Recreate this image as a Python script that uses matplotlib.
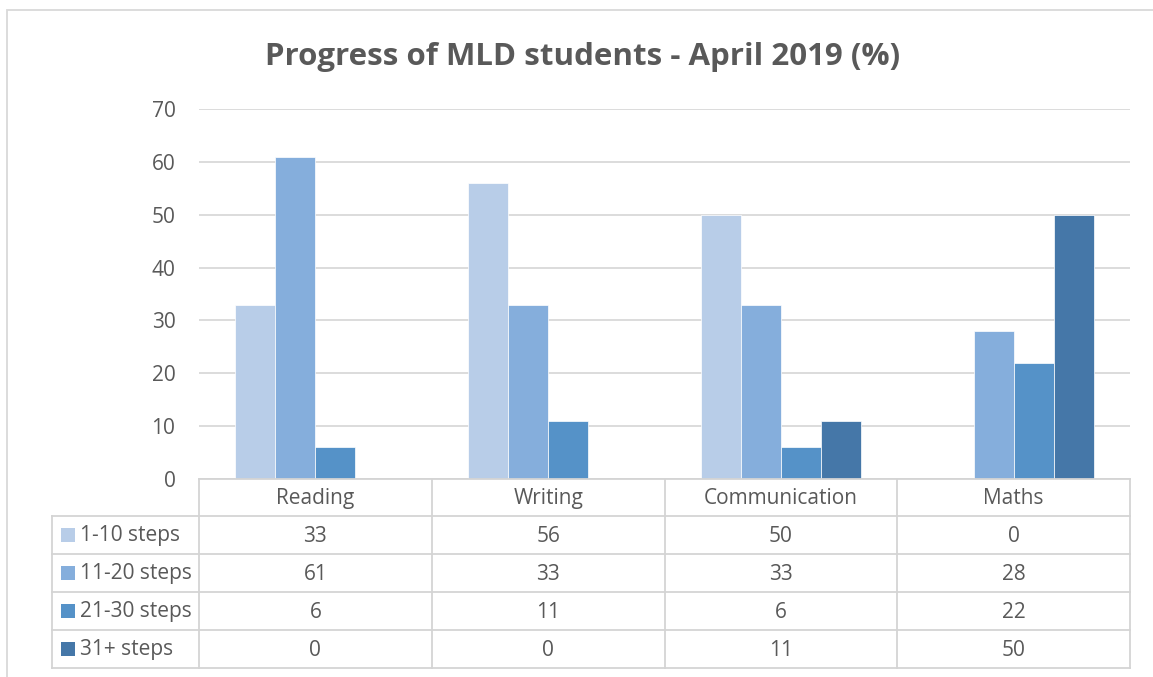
import numpy as np
import matplotlib
matplotlib.use('Agg')
import matplotlib.pyplot as plt
from matplotlib.lines import Line2D
from matplotlib.patches import Rectangle

subjects = ['Reading', 'Writing', 'Communication', 'Maths']
series = ['1-10 steps', '11-20 steps', '21-30 steps', '31+ steps']
steps_1_10 = [33, 56, 50, 0]
steps_11_20 = [61, 33, 33, 28]
steps_21_30 = [6, 11, 6, 22]
steps_31_plus = [0, 0, 11, 50]
values = [steps_1_10, steps_11_20, steps_21_30, steps_31_plus]
colors = ['#B8CDE8', '#85AEDC', '#5592C8', '#4577A8']
yticks = [0, 10, 20, 30, 40, 50, 60, 70]

W, H = 1153, 677
txt = '#595959'
grid = '#D9D9D9'
fs = 15
plt.rcParams['font.family'] = ['Open Sans', 'DejaVu Sans']

fig = plt.figure(figsize=(W / 100, H / 100), dpi=100)

def fx(x):
    return x / W

def fy(y):
    return 1 - y / H

# plot area in pixels
L, R, T, B = 199, 1130, 109, 479
ax = fig.add_axes([fx(L), fy(B), fx(R) - fx(L), fy(T) - fy(B)])
ax.set_xlim(-0.5, len(subjects) - 0.5)
ax.set_ylim(0, 70)
ax.set_yticks(yticks)
ax.set_xticks([])
ax.yaxis.grid(True, color=grid, lw=1.3)
ax.set_axisbelow(True)
for s in ax.spines.values():
    s.set_visible(False)
ax.tick_params(axis='y', length=0, pad=17, labelsize=fs, labelcolor=txt)

w = 40 / ((R - L) / 4)
x = np.arange(len(subjects))
for i, (vals, c) in enumerate(zip(values, colors)):
    ax.bar(x + (i - 1.5) * w, vals, w, color=c, edgecolor='white', linewidth=0.5, zorder=3)

# outer chart border
fig.add_artist(Rectangle((fx(7), fy(700)), fx(1160) - fx(7), fy(10) - fy(700),
                         transform=fig.transFigure, fill=False, edgecolor=grid, lw=1.3))

fig.text(fx(583), fy(57), 'Progress of MLD students - April 2019 (%)', ha='center', va='center',
         fontsize=22.5, fontweight='bold', color=txt)

# data table
col_edges = [L + (R - L) * k / 4 for k in range(5)]
row_edges = [479, 516, 554, 592, 630, 668]
lc = '#D4D4D4'

def hline(y, x0, x1):
    fig.add_artist(Line2D([fx(x0), fx(x1)], [fy(y), fy(y)], transform=fig.transFigure, color=lc, lw=1.3))

def vline(x0, y0, y1):
    fig.add_artist(Line2D([fx(x0), fx(x0)], [fy(y0), fy(y1)], transform=fig.transFigure, color=lc, lw=1.3))

hline(row_edges[0], L, R)
for y in row_edges[1:]:
    hline(y, 52, R)
vline(52, row_edges[1], row_edges[-1])
for xe in col_edges:
    vline(xe, row_edges[0], row_edges[-1])

for j, name in enumerate(subjects):
    cx = (col_edges[j] + col_edges[j + 1]) / 2
    fig.text(fx(cx), fy((row_edges[0] + row_edges[1]) / 2 + 1), name, ha='center', va='center',
             fontsize=fs, color=txt)
for i, name in enumerate(series):
    cy = (row_edges[i + 1] + row_edges[i + 2]) / 2
    fig.add_artist(Rectangle((fx(61), fy(cy + 7)), fx(14), 14 / H, transform=fig.transFigure,
                             facecolor=colors[i], edgecolor='none'))
    fig.text(fx(80), fy(cy + 1), name, ha='left', va='center', fontsize=fs, color=txt)
    for j in range(len(subjects)):
        cx = (col_edges[j] + col_edges[j + 1]) / 2
        fig.text(fx(cx), fy(cy + 1), str(values[i][j]), ha='center', va='center', fontsize=fs, color=txt)

plt.savefig('out.png', dpi=100)
